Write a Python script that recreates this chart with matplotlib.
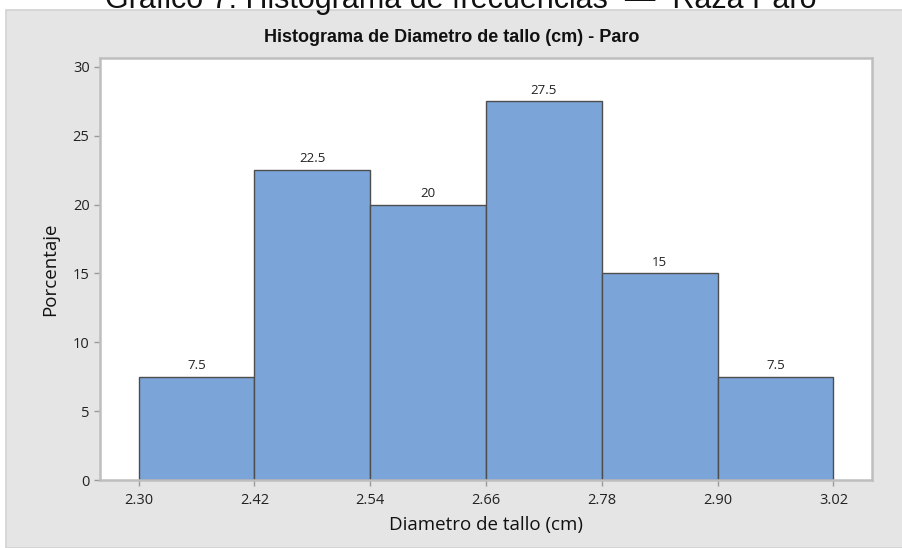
import numpy as np
import matplotlib
matplotlib.use("Agg")
import matplotlib.pyplot as plt
from matplotlib.patches import Rectangle

# ─── Data ─────────────────────────────────────────────────────────────
BIN_EDGES  = [2.30, 2.42, 2.54, 2.66, 2.78, 2.90, 3.02]
PERCENTS   = [7.5, 22.5, 20, 27.5, 15, 7.5]
BAR_LABELS = ["7.5", "22.5", "20", "27.5", "15", "7.5"]
Y_TICKS    = [0, 5, 10, 15, 20, 25, 30]

PAGE_TITLE = "Gráfico 7. Histograma de frecuencias  —  Raza Paro"
TITLE      = "Histograma de Diametro de tallo (cm) - Paro"
XLABEL     = "Diametro de tallo (cm)"
YLABEL     = "Porcentaje"

# ─── Style ────────────────────────────────────────────────────────────
BAR_COLOR  = "#7BA5D8"
EDGE_COLOR = "#4D4D4D"
PANEL_BG   = "#E5E5E5"
SPINE_C    = "#BEBEBE"
FONT       = ["Open Sans", "DejaVu Sans"]
NARROW     = ["Liberation Sans Narrow", "Liberation Sans", "DejaVu Sans"]

W, H = 902, 548
fig = plt.figure(figsize=(W / 100, H / 100), dpi=100, facecolor="white")

# grey Minitab panel behind everything
fig.patches.append(Rectangle((6 / W, 0), 1, 1 - 10 / H, transform=fig.transFigure,
                             facecolor=PANEL_BG, edgecolor="#D2D2D2",
                             linewidth=1.2, zorder=-5))

# page caption, cut off at the top of the screenshot (as in the source)
fig.text(461 / W, 1 - 8 / H, PAGE_TITLE, ha="center", va="baseline",
         fontsize=22, family=["Liberation Sans", "DejaVu Sans"], color="#111111")

ax = fig.add_axes([100 / W, 68 / H, 772 / W, 422 / H])
ax.set_zorder(2)
ax.set_facecolor("white")

edges = np.array(BIN_EDGES)
bars = ax.bar(edges[:-1], PERCENTS, width=np.diff(edges), align="edge",
              color=BAR_COLOR, edgecolor=EDGE_COLOR, linewidth=1.0)
ax.bar_label(bars, labels=BAR_LABELS, padding=3.5, fontsize=9.5,
             family=FONT, color="#222222")

ax.set_xlim(2.26, 3.06)
ax.set_ylim(0, 30.65)
ax.set_xticks(BIN_EDGES)
ax.set_xticklabels([f"{e:.2f}" for e in BIN_EDGES])
ax.set_yticks(Y_TICKS)

for sp in ax.spines.values():
    sp.set_color(SPINE_C)
    sp.set_linewidth(1.8)

ax.tick_params(axis="both", direction="out", length=4, width=1,
               color="#9A9A9A", labelsize=10.5, labelcolor="#222222")
ax.tick_params(axis="x", pad=5)
for lbl in ax.get_xticklabels() + ax.get_yticklabels():
    lbl.set_family(FONT)

ax.set_xlabel(XLABEL, fontsize=13.5, family=FONT, color="#111111", labelpad=6)
ax.set_ylabel(YLABEL, fontsize=13.5, family=FONT, color="#111111", labelpad=10)

fig.text(452 / W, 1 - 37 / H, TITLE, ha="center", va="center",
         fontsize=13, fontweight="bold", family=NARROW, color="#111111")

fig.savefig("out.png", dpi=100, facecolor="white")
